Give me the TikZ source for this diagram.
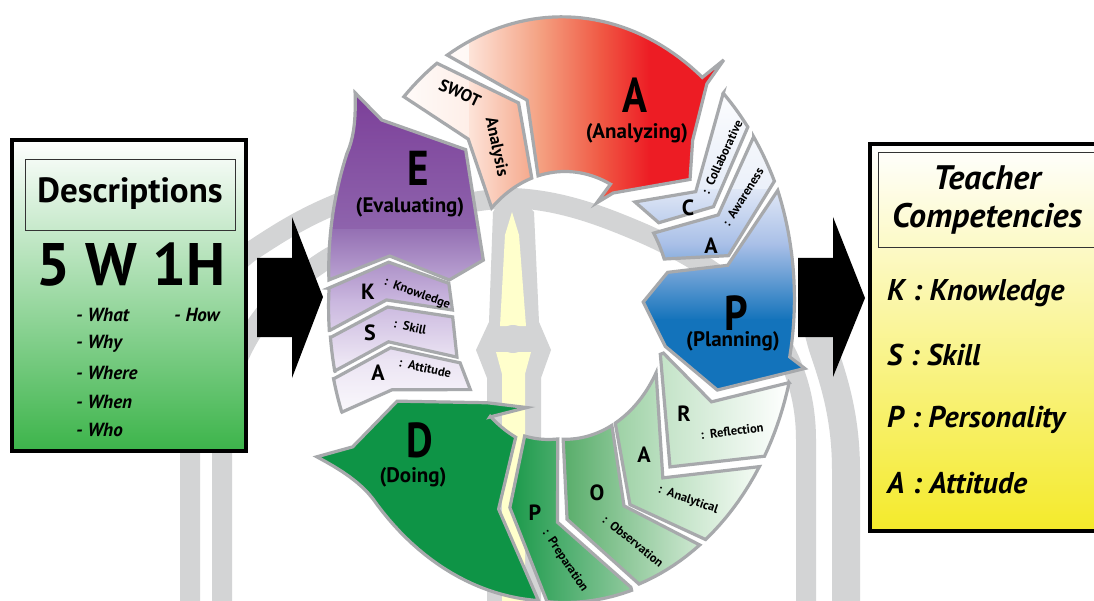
\documentclass[tikz,border=0pt]{standalone}
\usepackage{graphicx}
\usepackage{fontspec}
\setmainfont{PT Sans}
\definecolor{segline}{HTML}{A7A9AC}
\definecolor{bggray}{HTML}{D3D4D5}
\definecolor{pillaryellow}{HTML}{FFFFCC}
\definecolor{swotA}{HTML}{FDE3D8}
\definecolor{swotB}{HTML}{F4A182}
\definecolor{swotC}{HTML}{F05A45}
\definecolor{redA}{HTML}{ED1C24}
\definecolor{purA}{HTML}{7A3C97}
\definecolor{purB}{HTML}{9571B4}
\definecolor{purC}{HTML}{C9B6DE}
\definecolor{purD}{HTML}{EBE4F3}
\definecolor{bluA}{HTML}{DFE7F6}
\definecolor{bluB}{HTML}{A8BFE7}
\definecolor{bluC}{HTML}{1373BB}
\definecolor{grnD}{HTML}{0E9446}
\definecolor{grnR}{HTML}{C3E3C7}
\definecolor{grnAl}{HTML}{9DD1A5}
\definecolor{grnAr}{HTML}{F5FBF5}
\definecolor{grnOl}{HTML}{58AD6A}
\definecolor{grnOr}{HTML}{CFE8D2}
\definecolor{grnPl}{HTML}{1A994A}
\definecolor{grnPr}{HTML}{90C99D}
\definecolor{boxgreen}{HTML}{3CB44A}
\definecolor{boxyellow}{HTML}{F4EA2A}
% ring coordinate system: angle a (degrees), radial fraction r (0 = inner rim, 1 = outer rim)
\pgfkeys{/ringcs/.cd, a/.store in=\ringa, r/.store in=\ringr, a=0, r=0}
\tikzdeclarecoordinatesystem{rg}{%
  \pgfkeys{/ringcs/.cd,#1}%
  \pgfmathsetmacro\ringpx{565+(105+127*(\ringr))*cos(\ringa)}%
  \pgfmathsetmacro\ringpy{307-1.26*(105+127*(\ringr))*sin(\ringa)}%
  \pgfpointxy{\ringpx}{\ringpy}%
}
% narrow capital for the four stage arrows
\newcommand\stageletter[1]{\scalebox{0.84}[1]{#1}}
\tikzset{
  ringpart/.style={draw=segline, line width=3.2pt, line join=miter, miter limit=6},
  archband/.style={draw=bggray, line width=20pt},
  bigletter/.style={font=\fontsize{49}{49}\selectfont\bfseries, inner sep=0pt},
  subword/.style={font=\fontsize{21}{21}\selectfont\bfseries, inner sep=0pt},
  bandletter/.style={font=\fontsize{22}{22}\selectfont\bfseries, inner sep=0pt},
  bandnote/.style={font=\fontsize{12.5}{12.5}\selectfont\bfseries, inner sep=0pt},
  listitem/.style={font=\fontsize{19}{19}\selectfont\bfseries\itshape, inner sep=0pt, anchor=west},
  compitem/.style={font=\fontsize{30}{30}\selectfont\bfseries\itshape, inner sep=0pt, anchor=west},
  analyzefill/.style={path picture={
    \fill[left color=white,right color=swotA] (380,0) rectangle (470,601);
    \fill[left color=swotA,right color=swotB] (469.5,0) rectangle (540,601);
    \fill[left color=swotB,right color=swotC] (539.5,0) rectangle (600,601);
    \fill[left color=swotC,right color=redA] (599.5,0) rectangle (650,601);
    \fill[redA] (649.5,0) rectangle (780,601);}},
  evalfill/.style={path picture={
    \fill[top color=purA,bottom color=purB] (300,80) rectangle (620,230);
    \fill[top color=purB,bottom color=purC] (300,229.5) rectangle (620,300);
    \fill[top color=purC,bottom color=purD] (300,299.5) rectangle (620,360);
    \fill[top color=purD,bottom color=white] (300,359.5) rectangle (620,430);}},
  planfill/.style={path picture={
    \fill[top color=white,bottom color=bluA] (600,80) rectangle (830,190);
    \fill[top color=bluA,bottom color=bluB] (600,189.5) rectangle (830,245);
    \fill[top color=bluB,bottom color=bluC] (600,244.5) rectangle (830,320);
    \fill[bluC] (600,319.5) rectangle (830,420);}},
}
\begin{document}
\begin{tikzpicture}[x=1pt,y=-1pt]
\useasboundingbox (0,0) rectangle (1094,601);
\clip (0,0) rectangle (1094,601);
\fill[white] (0,0) rectangle (1094,601);

% ---- background arch bands ----
\draw[archband] (190,620) -- (190,430) .. controls (190,330) and (212,280) .. (250,252) .. controls (280,232) and (300,220) .. (327,208) .. controls (355,196) and (380,185) .. (405,175);
\draw[archband] (222,620) -- (222,440) .. controls (222,360) and (262,300) .. (327,259) .. controls (400,215) and (460,200) .. (513,198);
\draw[archband] (513,198) .. controls (560,200) and (600,215) .. (640,232) .. controls (740,275) and (806,340) .. (806,440) -- (806,620);
\draw[archband, line width=28pt] (846,620) -- (846,470) .. controls (846,410) and (830,370) .. (822,345) .. controls (815,320) and (812,300) .. (812,285);

% ---- central pillar ----
\fill[bggray] (511,186) -- (534,212) -- (539,322) -- (551,350) -- (541,378) -- (541,620) -- (487,620) -- (487,378) -- (476,350) -- (489,322) -- (493,212) -- cycle;
\fill[pillaryellow] (512,212) -- (519,235) -- (526,326) -- (500,326) -- (505,235) -- cycle;
\fill[pillaryellow] (496,352) -- (531,352) -- (525,374) -- (525,620) -- (502,620) -- (502,374) -- cycle;
\fill[bggray] (513,339) circle[radius=14pt];

% ---- ring: Analyzing ----
\path[ringpart, analyzefill] (rg cs:a=134,r=1) -- (rg cs:a=126,r=0.47) -- (rg cs:a=133,r=0.02)
  -- plot[domain=133:108,samples=20] (rg cs:a=\x,r=0.02) -- (rg cs:a=106,r=0.5) -- (rg cs:a=123.5,r=1)
  -- plot[domain=123.5:134,samples=8] (rg cs:a=\x,r=1) -- cycle;
\path[ringpart, analyzefill] (rg cs:a=120.5,r=1)
  -- plot[domain=120.5:53,samples=40] (rg cs:a=\x,r={1-0.03*(120.5-(\x))/67.5})
  -- (rg cs:a=51,r=1.16) -- (rg cs:a=51.3,r=0.96) -- (rg cs:a=46,r=0.62) -- (rg cs:a=39,r=0.44)
  -- (rg cs:a=62,r=-0.02) -- (rg cs:a=69,r=-0.13) -- (rg cs:a=65,r=0.02)
  -- plot[domain=65:104.5,samples=20] (rg cs:a=\x,r=0.02) -- (rg cs:a=103,r=0.5) -- cycle;

% ---- ring: Planning ----
\path[ringpart, planfill] (rg cs:a=47,r=1) -- (rg cs:a=35,r=0.43) -- (rg cs:a=50,r=0.03) -- (rg cs:a=35.5,r=0.08)
  -- (rg cs:a=28.2,r=0.5) -- (rg cs:a=38,r=1) -- plot[domain=38:47,samples=8] (rg cs:a=\x,r=1) -- cycle;
\path[ringpart, planfill] (rg cs:a=35.6,r=1) -- (rg cs:a=25.5,r=0.51) -- (rg cs:a=33.5,r=0.01)
  -- plot[domain=33.5:21,samples=10] (rg cs:a=\x,r=0.01) -- (rg cs:a=14,r=0.5) -- (rg cs:a=25.5,r=1)
  -- plot[domain=25.5:35.6,samples=8] (rg cs:a=\x,r=1) -- cycle;
\path[ringpart, planfill] (rg cs:a=23.5,r=1)
  -- plot[domain=23.5:-10,samples=25] (rg cs:a=\x,r={1-0.03*(23.5-(\x))/33.5})
  -- (rg cs:a=-11.5,r=1.1) -- (rg cs:a=-23.4,r=0.48) -- (rg cs:a=-17.3,r=0.0) -- (rg cs:a=2.9,r=-0.21)
  -- (rg cs:a=15,r=0.01) -- (rg cs:a=11.5,r=0.48) -- cycle;

% ---- ring: Doing ----
\path[ringpart, left color=grnR, right color=white] (rg cs:a=-15,r=1) -- (rg cs:a=-27.2,r=0.47) -- (rg cs:a=-20.4,r=0)
  -- (rg cs:a=-21.5,r=-0.02) -- (rg cs:a=-50.4,r=0.47) -- (rg cs:a=-30.7,r=1)
  -- plot[domain=-30.7:-15,samples=10] (rg cs:a=\x,r=1) -- cycle;
\path[ringpart, left color=grnAl, right color=grnAr] (rg cs:a=-33.1,r=1) -- (rg cs:a=-54.2,r=0.49) -- (rg cs:a=-29.8,r=0)
  -- plot[domain=-29.8:-61.4,samples=15] (rg cs:a=\x,r=0) -- (rg cs:a=-67.5,r=0.51) -- (rg cs:a=-52.7,r=1)
  -- plot[domain=-52.7:-33.1,samples=10] (rg cs:a=\x,r=1) -- cycle;
\path[ringpart, left color=grnOl, right color=grnOr] (rg cs:a=-54.5,r=1) -- (rg cs:a=-69.5,r=0.5) -- (rg cs:a=-63.5,r=0)
  -- plot[domain=-63.5:-91,samples=15] (rg cs:a=\x,r=0) -- (rg cs:a=-89.3,r=0.5) -- (rg cs:a=-71.4,r=1)
  -- plot[domain=-71.4:-54.5,samples=10] (rg cs:a=\x,r=1) -- cycle;
\path[ringpart, left color=grnPl, right color=grnPr] (rg cs:a=-73.5,r=1) -- (rg cs:a=-92.5,r=0.52) -- (rg cs:a=-94,r=0)
  -- plot[domain=-94:-111.5,samples=10] (rg cs:a=\x,r={0.04*(-94-(\x))/17.5}) -- (rg cs:a=-109.1,r=0.5) -- (rg cs:a=-94.4,r=1.02)
  -- plot[domain=-94.4:-73.5,samples=10] (rg cs:a=\x,r=1.02) -- cycle;
\path[ringpart, fill=grnD] (rg cs:a=-96.5,r=1.02)
  -- plot[domain=-96.5:-140,samples=25] (rg cs:a=\x,r={1.02+0.08*(-96.5-(\x))/43.5})
  -- plot[domain=-140:-154.4,samples=10] (rg cs:a=\x,r={1.1+0.24*((-140-(\x))/14.4)^2})
  -- (rg cs:a=-152.4,r=1.06) -- (rg cs:a=-156,r=0.62) -- (rg cs:a=-135.7,r=0.03) -- (rg cs:a=-115.6,r=-0.13)
  -- (rg cs:a=-130.7,r=0.08) -- plot[domain=-130.7:-115.5,samples=8] (rg cs:a=\x,r=0.075)
  -- (rg cs:a=-112.5,r=0.54) -- cycle;

% ---- ring: Evaluating ----
\path[ringpart, evalfill] (rg cs:a=193.8,r=1.04) -- (rg cs:a=190.5,r=0.57) -- (rg cs:a=202.9,r=0.07) -- (rg cs:a=214.7,r=0.08)
  -- (rg cs:a=200.8,r=0.63) -- (rg cs:a=200.5,r=1.06) -- plot[domain=200.5:193.8,samples=6] (rg cs:a=\x,r=1.05) -- cycle;
\path[ringpart, evalfill] (rg cs:a=185.8,r=1.02) -- (rg cs:a=180,r=0.57) -- (rg cs:a=184,r=0.06) -- (rg cs:a=200.2,r=0.08)
  -- (rg cs:a=188.9,r=0.58) -- (rg cs:a=192.5,r=1.04) -- plot[domain=192.5:185.8,samples=6] (rg cs:a=\x,r=1.03) -- cycle;
\path[ringpart, evalfill] (rg cs:a=176.4,r=1.04) -- (rg cs:a=168.6,r=0.59) -- (rg cs:a=170.8,r=0.1) -- (rg cs:a=181.2,r=0.06)
  -- (rg cs:a=178.2,r=0.58) -- (rg cs:a=184.5,r=1.03) -- plot[domain=184.5:176.4,samples=6] (rg cs:a=\x,r=1.035) -- cycle;
\path[ringpart, evalfill] (rg cs:a=174.8,r=1.04)
  -- plot[domain=174.8:150.8,samples=20] (rg cs:a=\x,r={1.04+0.1*(174.8-(\x))/24})
  -- plot[domain=150.8:141,samples=10] (rg cs:a=\x,r={1.14+0.16*((150.8-(\x))/9.8)^2})
  -- (rg cs:a=141,r=1.03) -- (rg cs:a=128.5,r=0.43) -- (rg cs:a=155.5,r=-0.12) -- (rg cs:a=169.5,r=0.1)
  -- (rg cs:a=167,r=0.59) -- cycle;

% ---- ring labels ----
\node[bigletter] (lA) at (635,95) {\stageletter{A}};
\node[subword] (wA) at (637,133) {(Analyzing)};
\node[bigletter] (lE) at (418,168) {\stageletter{E}};
\node[subword] (wE) at (410,207) {(Evaluating)};
\node[bigletter] (lP) at (736,313) {\stageletter{P}};
\node[subword] (wP) at (733,341) {(Planning)};
\node[bigletter] (lD) at (420,440) {\stageletter{D}};
\node[subword] (wD) at (413,477) {(Doing)};

\node[font=\fontsize{17}{17}\selectfont\bfseries, rotate=-25, inner sep=0pt] (swot) at (460,93) {SWOT};
\node[font=\fontsize{17}{17}\selectfont\bfseries, rotate=-78, inner sep=0pt] (analysis) at (496,147) {Analysis};

\node[bandletter] (bC) at (688,208) {C};
\node[bandnote, rotate=65] (nC) at (722,157) {:\ \ Collaborative};
\node[bandletter] (bAw) at (711,246) {A};
\node[bandnote, rotate=58] (nAw) at (743,197) {:\ \ Awareness};
\node[bandletter] (bR) at (684,414) {R};
\node[bandnote, rotate=7] (nR) at (732,431) {:\ \ Reflection};
\node[bandletter] (bAn) at (644,455) {A};
\node[bandnote, rotate=-19] (nAn) at (688,500) {:\ \ Analytical};
\node[bandletter] (bO) at (597,493) {O};
\node[bandnote, rotate=-39] (nO) at (633,541) {:\ \ Observation};
\node[bandletter] (bPr) at (535,513) {P};
\node[bandnote, rotate=-56] (nPr) at (565,561) {:\ \ Preparation};
\node[bandletter] (bK) at (368,292) {K};
\node[bandnote, rotate=-20] (nK) at (417,294) {:\ \ Knowledge};
\node[bandletter] (bS) at (370,333) {S};
\node[bandnote, rotate=-12] (nS) at (410,327) {:\ \ Skill};
\node[bandletter] (bAt) at (378,373) {A};
\node[bandnote, rotate=-12] (nAt) at (425,368) {:\ \ Attitude};

% ---- block arrows ----
\fill[black] (257,258) -- (292,258) -- (292,217) -- (323,297) -- (292,378) -- (292,337) -- (257,337) -- cycle;
\fill[black] (798,258) -- (833,258) -- (833,217) -- (865,298) -- (833,377) -- (833,337) -- (798,337) -- cycle;

% ---- left box ----
\path[draw=black, line width=4pt, top color=white, bottom color=boxgreen] (12,140) rectangle (246,451);
\draw[black!80, line width=0.8pt] (25,159) rectangle (235,230);
\node[font=\fontsize{35}{35}\selectfont\bfseries, inner sep=0pt] (desc) at (130,194) {Descriptions};
\node[font=\fontsize{60}{60}\selectfont\bfseries, inner sep=0pt] (fivew) at (131,265) {5 W 1H};
\node[listitem] (what) at (76,315) {- What};
\node[listitem] (why) at (76,344) {- Why};
\node[listitem] (where) at (76,373) {- Where};
\node[listitem] (when) at (76,402) {- When};
\node[listitem] (who) at (76,430) {- Who};
\node[listitem] (how) at (174,315) {- How};

% ---- right box ----
\path[draw=black, line width=4pt, top color=white, bottom color=boxyellow] (870,144) rectangle (1110,531);
\draw[black!80, line width=0.8pt] (878,152) rectangle (1110,247);
\node[font=\fontsize{34}{34}\selectfont\bfseries\itshape, inner sep=0pt] (teacher) at (987,178) {Teacher};
\node[font=\fontsize{34}{34}\selectfont\bfseries\itshape, inner sep=0pt] (compet) at (987,219) {Competencies};
\node[compitem] (cK) at (887,293) {K : Knowledge};
\node[compitem] (cS) at (887,355) {S : Skill};
\node[compitem] (cP) at (887,420) {P : Personality};
\node[compitem] (cA) at (887,483) {A : Attitude};
\end{tikzpicture}
\end{document}
